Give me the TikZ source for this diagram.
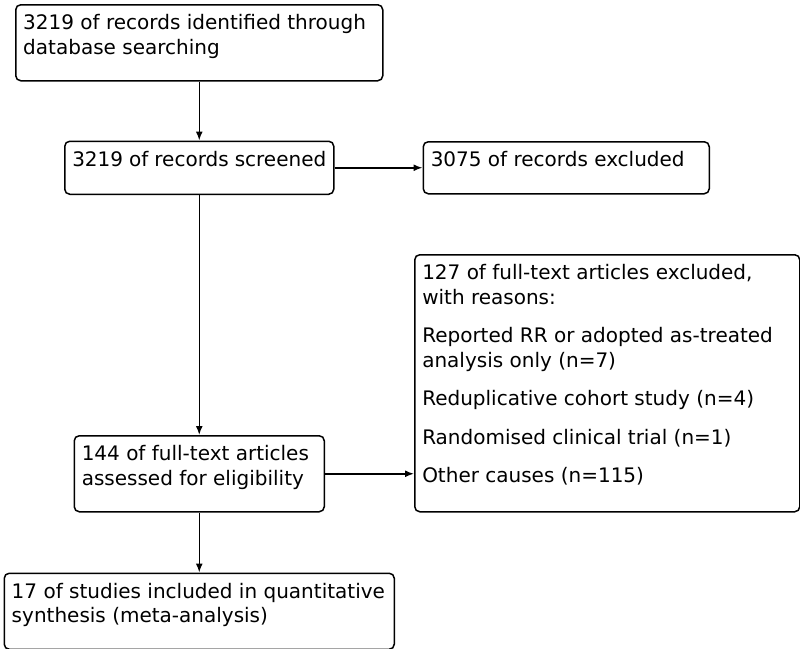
\documentclass[tikz,border=0pt]{standalone}
\usepackage{fontspec}
\setmainfont{DejaVu Sans}
\usepackage{tikz}
\usetikzlibrary{arrows.meta,positioning}
\tikzset{
  >={Latex[length=9pt,width=7pt]},
  blk/.style={draw, line width=1.5pt, rounded corners=5pt, inner xsep=7.5pt, inner ysep=10pt, font=\fontsize{20}{24.5}\selectfont},
  flow/.style={->, line width=1.5pt},
}
\newcommand{\boxtext}[3]{\parbox[t][#2][t]{#1}{\raggedright #3}}

\begin{document}
\begin{tikzpicture}[x=1pt, y=1pt]
  \useasboundingbox (0,0) rectangle (800,-648);
  \node[blk, anchor=north west] (ident) at (15,-4)
    {\boxtext{352pt}{56pt}{3219 of records identified through\\ database searching}};
  \node[blk, below=59pt of ident] (screen) {\boxtext{254pt}{33pt}{3219 of records screened}};
  \node[blk, right=88pt of screen] (excl) {\boxtext{271pt}{32pt}{3075 of records excluded}};
  \node[blk, below=240pt of screen] (full)
    {\boxtext{235pt}{56pt}{144 of full-text articles\\ assessed for eligibility}};
  \node[blk, right=89pt of full.south east, anchor=south west] (reasons)
    {\boxtext{370pt}{237pt}{127 of full-text articles excluded,\\ with reasons:\\[14pt]
     Reported RR or adopted as-treated\\ analysis only (n=7)\\[14pt]
     Reduplicative cohort study (n=4)\\[14pt]
     Randomised clinical trial (n=1)\\[14pt]
     Other causes (n=115)}};
  \node[blk, below=60pt of full] (incl)
    {\boxtext{375pt}{56pt}{17 of studies included in quantitative\\ synthesis (meta-analysis)}};
  \draw[flow] (ident) -- (screen);
  \draw[flow] (screen) -- (excl);
  \draw[flow] (screen) -- (full);
  \draw[flow] (full.east) -- (full.east -| reasons.west);
  \draw[flow] (full) -- (incl);
\end{tikzpicture}
\end{document}
